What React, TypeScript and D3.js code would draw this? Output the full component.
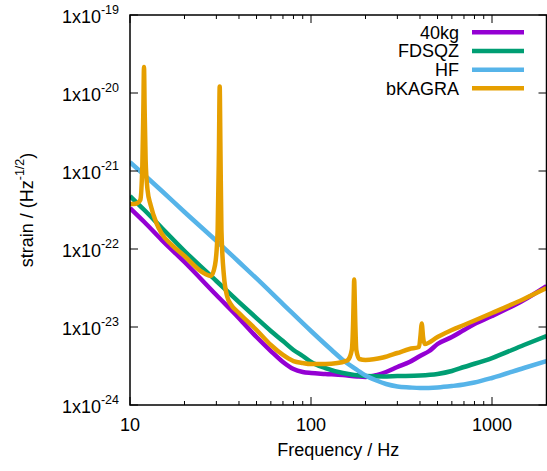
import * as d3 from "d3";
import { useEffect, useRef } from "react";

// frequencies (Hz) and strain ASD (1/sqrt(Hz))
const freq40kg = [10, 12, 15, 20, 30, 40, 50, 60, 70, 80, 90, 100, 120, 150, 180, 200, 230, 260, 300, 350, 400, 450, 500, 600, 700, 800, 1000, 1500, 2000];
const asd40kg = [3.35e-22, 2.22e-22, 1.30e-22, 6.81e-23, 2.57e-23, 1.30e-23, 7.44e-24, 4.92e-24, 3.56e-24, 2.89e-24, 2.65e-24, 2.57e-24, 2.50e-24, 2.42e-24, 2.32e-24, 2.29e-24, 2.42e-24, 2.65e-24, 3.07e-24, 3.56e-24, 4.25e-24, 4.92e-24, 6.05e-24, 7.44e-24, 9.15e-24, 1.09e-23, 1.38e-23, 2.22e-23, 3.35e-23];

const freqFDSQZ = [10, 12, 15, 20, 30, 40, 50, 60, 70, 80, 90, 100, 120, 150, 200, 250, 300, 400, 500, 600, 700, 1000, 1500, 2000];
const asdFDSQZ = [4.78e-22, 3.16e-22, 1.86e-22, 9.43e-23, 3.89e-23, 2.09e-23, 1.30e-23, 8.89e-24, 6.61e-24, 5.07e-24, 4.25e-24, 3.56e-24, 2.98e-24, 2.57e-24, 2.35e-24, 2.32e-24, 2.35e-24, 2.39e-24, 2.50e-24, 2.73e-24, 3.07e-24, 4.00e-24, 5.88e-24, 7.67e-24];

const freqHF = [10, 12, 15, 20, 30, 40, 50, 70, 100, 130, 150, 180, 200, 230, 260, 300, 350, 400, 500, 600, 700, 800, 1000, 1500, 2000];
const asdHF = [1.30e-21, 8.89e-22, 5.54e-22, 2.98e-22, 1.27e-22, 6.81e-23, 4.19e-23, 1.97e-23, 8.89e-24, 5.07e-24, 3.78e-24, 2.81e-24, 2.39e-24, 2.06e-24, 1.86e-24, 1.73e-24, 1.68e-24, 1.65e-24, 1.68e-24, 1.75e-24, 1.83e-24, 1.94e-24, 2.22e-24, 2.98e-24, 3.66e-24];

const freqBKAGRA = [10, 10.5, 11, 11.4, 11.7, 11.85, 11.95, 12.05, 12.2, 12.5, 13, 14, 15, 17, 20, 25, 28, 29.5, 30.5, 31, 31.3, 31.6, 32, 33, 34.5, 36, 40, 50, 60, 70, 80, 90, 100, 120, 140, 155, 160, 168, 171, 172.5, 173.2, 174, 175.5, 178, 185, 200, 250, 300, 350, 395, 403, 407, 409.5, 412, 416, 425, 500, 600, 700, 1000, 1500, 2000];
const asdBKAGRA = [3.78e-22, 3.78e-22, 3.89e-22, 4.25e-22, 1.19e-21, 6.05e-21, 2.15e-20, 6.05e-21, 1.38e-21, 5.71e-22, 3.66e-22, 2.15e-22, 1.56e-22, 1.13e-22, 8.13e-23, 5.07e-23, 4.51e-23, 6.23e-23, 1.75e-22, 1.86e-21, 1.21e-20, 1.86e-21, 1.75e-22, 4.64e-23, 2.42e-23, 1.97e-23, 1.51e-23, 9.15e-24, 5.88e-24, 4.38e-24, 3.66e-24, 3.45e-24, 3.35e-24, 3.35e-24, 3.45e-24, 3.66e-24, 3.78e-24, 5.07e-24, 1.23e-23, 2.98e-23, 4.06e-23, 2.98e-23, 1.23e-23, 5.07e-24, 3.89e-24, 3.78e-24, 4.06e-24, 4.64e-24, 5.22e-24, 5.54e-24, 7.90e-24, 1.03e-23, 1.11e-23, 9.71e-24, 7.44e-24, 6.05e-24, 7.44e-24, 9.15e-24, 1.06e-23, 1.51e-23, 2.29e-23, 3.16e-23];

const seriesNames = ["40kg", "FDSQZ", "HF", "bKAGRA"];
const seriesColors = ["#9400d3", "#009e73", "#56b4e9", "#e69f00"];
const seriesFreqs = [freq40kg, freqFDSQZ, freqHF, freqBKAGRA];
const seriesAsd = [asd40kg, asdFDSQZ, asdHF, asdBKAGRA];

const xTicks = [10, 100, 1000];
const yExponents = [-19, -20, -21, -22, -23, -24];

const W = 547;
const H = 471;
const margin = { top: 15, right: 0.5, bottom: 66, left: 130 };
const FONT = "'Liberation Sans', Arial, Helvetica, sans-serif";

const App = () => {
    const ref = useRef<SVGSVGElement>(null);

    useEffect(() => {
        const svg = d3.select(ref.current);
        svg.selectAll("*").remove();

        const x0 = margin.left, x1 = W - margin.right;
        const y0 = margin.top, y1 = H - margin.bottom;

        const x = d3.scaleLog().domain([10, 2000]).range([x0, x1]);
        const y = d3.scaleLog().domain([1e-24, 1e-19]).range([y1, y0]);

        svg.append("defs").append("clipPath").attr("id", "plotclip")
            .append("rect").attr("x", x0).attr("y", y0).attr("width", x1 - x0).attr("height", y1 - y0);

        // curves
        const line = d3.line<[number, number]>()
            .x(d => x(d[0]))
            .y(d => y(d[1]))
            .curve(d3.curveMonotoneX);

        const g = svg.append("g").attr("clip-path", "url(#plotclip)");
        seriesNames.forEach((name, i) => {
            const pts = seriesFreqs[i].map((f, j) => [f, seriesAsd[i][j]] as [number, number]);
            g.append("path")
                .attr("d", line(pts))
                .attr("fill", "none")
                .attr("stroke", seriesColors[i])
                .attr("stroke-width", 4.5)
                .attr("stroke-linejoin", "round");
        });

        // ticks (inside, mirrored)
        const ticks = svg.append("g").attr("stroke", "#000").attr("stroke-width", 1);
        const xMinor: number[] = [];
        for (const dec of [10, 100, 1000]) for (let k = 2; k <= 9; k++) if (dec * k <= 2000) xMinor.push(dec * k);
        xMinor.forEach(v => {
            const px = x(v);
            ticks.append("line").attr("x1", px).attr("x2", px).attr("y1", y1).attr("y2", y1 - 4);
            ticks.append("line").attr("x1", px).attr("x2", px).attr("y1", y0).attr("y2", y0 + 4);
        });
        xTicks.forEach(v => {
            const px = x(v);
            ticks.append("line").attr("x1", px).attr("x2", px).attr("y1", y1).attr("y2", y1 - 8);
            ticks.append("line").attr("x1", px).attr("x2", px).attr("y1", y0).attr("y2", y0 + 8);
        });
        yExponents.forEach(e => {
            const base = Math.pow(10, e);
            const py = y(base);
            ticks.append("line").attr("x1", x0).attr("x2", x0 + 8).attr("y1", py).attr("y2", py);
            ticks.append("line").attr("x1", x1).attr("x2", x1 - 8).attr("y1", py).attr("y2", py);
            if (e > -19) {
                for (let k = 2; k <= 9; k++) {
                    const pm = y(base * k);
                    ticks.append("line").attr("x1", x0).attr("x2", x0 + 4).attr("y1", pm).attr("y2", pm);
                    ticks.append("line").attr("x1", x1).attr("x2", x1 - 4).attr("y1", pm).attr("y2", pm);
                }
            }
        });

        // frame
        svg.append("rect")
            .attr("x", x0).attr("y", y0).attr("width", x1 - x0).attr("height", y1 - y0)
            .attr("fill", "none").attr("stroke", "#000").attr("stroke-width", 1.5);

        // tick labels
        const labels = svg.append("g").attr("font-family", FONT).attr("fill", "#000");
        xTicks.forEach(v => {
            labels.append("text")
                .attr("x", x(v)).attr("y", y1 + 26)
                .attr("text-anchor", "middle").attr("font-size", 18)
                .text(String(v));
        });
        yExponents.forEach(e => {
            const t = labels.append("text")
                .attr("x", 119).attr("y", y(Math.pow(10, e)) + 8)
                .attr("text-anchor", "end").attr("font-size", 18);
            t.append("tspan").text("1x10");
            t.append("tspan").attr("font-size", 12.5).attr("dy", -9).text(String(e).replace("-", "-"));
        });

        // axis titles
        labels.append("text")
            .attr("x", (x0 + x1) / 2).attr("y", 456)
            .attr("text-anchor", "middle").attr("font-size", 18)
            .text("Frequency / Hz");

        const yl = labels.append("text")
            .attr("transform", `translate(33,${(y0 + y1) / 2}) rotate(-90)`)
            .attr("text-anchor", "middle").attr("font-size", 18);
        yl.append("tspan").text("strain / (Hz");
        yl.append("tspan").attr("font-size", 12.5).attr("dy", -9).text("-1/2");
        yl.append("tspan").attr("dy", 9).text(")");

        // legend
        const leg = svg.append("g").attr("font-family", FONT);
        seriesNames.forEach((name, i) => {
            const ly = 32.3 + i * 18.67;
            leg.append("text")
                .attr("x", 459).attr("y", ly + 6.3)
                .attr("text-anchor", "end").attr("font-size", 18)
                .text(name);
            leg.append("line")
                .attr("x1", 472).attr("x2", 524).attr("y1", ly).attr("y2", ly)
                .attr("stroke", seriesColors[i]).attr("stroke-width", 4.5);
        });
    }, []);

    return (
        <svg ref={ref} width={W} height={H}
            style={{ position: "absolute", left: 0, top: 0, background: "#fff" }}>
        </svg>
    );
};

export default App;
